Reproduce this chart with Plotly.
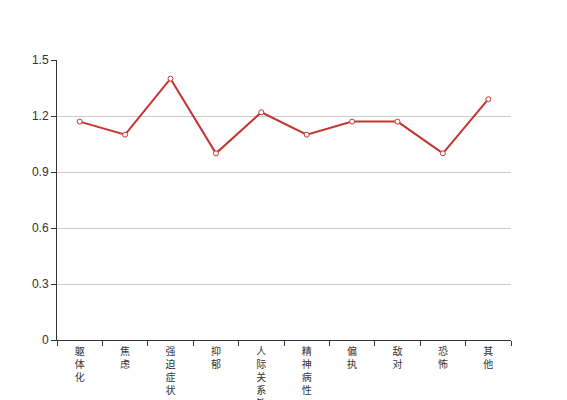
import plotly.graph_objects as go

categories = ["躯体化", "焦虑", "强迫症状", "抑郁", "人际关系敏感", "精神病性", "偏执", "敌对", "恐怖", "其他"]
values = [1.17, 1.10, 1.40, 1.00, 1.22, 1.10, 1.17, 1.17, 1.00, 1.29]
y_ticks = [0, 0.3, 0.6, 0.9, 1.2, 1.5]
y_tick_labels = ["0", "0.3", "0.6", "0.9", "1.2", "1.5"]

vertical_labels = ["<br>".join(list(c)) for c in categories]

fig = go.Figure()
fig.add_trace(go.Scatter(
    x=categories, y=values, mode="lines+markers",
    line=dict(color="#c23531", width=2),
    marker=dict(symbol="circle", size=5, color="#ffffff",
                line=dict(color="#c23531", width=1)),
    hoverinfo="x+y",
))

font_family = "Liberation Sans, Noto Sans CJK SC, sans-serif"
fig.update_layout(
    width=567, height=400,
    margin=dict(l=49, r=64, t=52, b=68),
    paper_bgcolor="#ffffff", plot_bgcolor="#ffffff",
    showlegend=False,
    font=dict(family=font_family, size=12, color="#333333"),
    xaxis=dict(
        type="category", automargin=False,
        tickmode="array", tickvals=categories, ticktext=vertical_labels,
        tickson="boundaries", ticks="outside", ticklen=5, tickcolor="#333333",
        showline=True, linecolor="#333333", linewidth=1,
        showgrid=False, zeroline=False,
        tickangle=0, ticklabelstandoff=2,
        tickfont=dict(size=10, color="#333333"),
        range=[-0.5, len(categories) - 0.5],
        fixedrange=True,
    ),
    yaxis=dict(
        range=[0, 1.5], automargin=False,
        tickmode="array", tickvals=y_ticks, ticktext=y_tick_labels,
        ticks="outside", ticklen=5, tickcolor="#333333",
        showline=True, linecolor="#333333", linewidth=1,
        showgrid=True, gridcolor="#cccccc", gridwidth=1,
        zeroline=False,
        tickfont=dict(size=12, color="#333333"),
        fixedrange=True,
    ),
)

fig.write_html("out.html")
